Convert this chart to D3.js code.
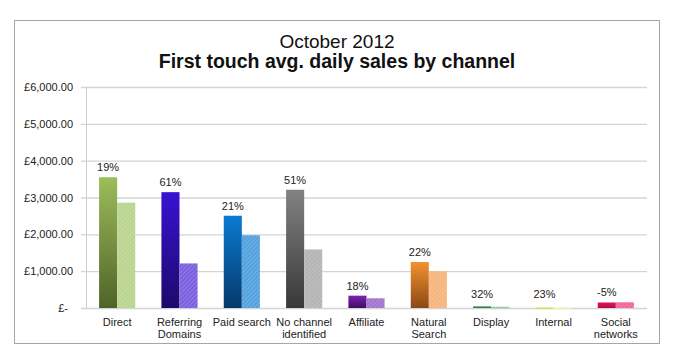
<!DOCTYPE html>
<html>
<head>
<meta charset="utf-8">
<script src="https://cdn.jsdelivr.net/npm/d3@7"></script>
<style>
  body { margin: 0; background: #fff; }
  text { font-family: "Liberation Sans", Arial, sans-serif; }
</style>
</head>
<body>
<div id="chart"></div>
<script>
// data
const channels = ['Direct', 'Referring Domains', 'Paid search', 'No channel identified', 'Affiliate',
  'Natural Search', 'Display', 'Internal', 'Social networks'];
const labelLines = [['Direct'], ['Referring', 'Domains'], ['Paid search'], ['No channel', 'identified'],
  ['Affiliate'], ['Natural', 'Search'], ['Display'], ['Internal'], ['Social', 'networks']];
const currentSales = [3550, 3145, 2505, 3210, 335, 1250, 45, 12, 150];
const previousSales = [2860, 1210, 1975, 1590, 265, 1000, 34, 10, 155];
const growth = ['19%', '61%', '21%', '51%', '18%', '22%', '32%', '23%', '-5%'];
const yTicks = [0, 1000, 2000, 3000, 4000, 5000, 6000];

// colours: [top of gradient, bottom of gradient, pale bar]
const palette = [
  ['#9dbd5a', '#4f6328', '#b9d48f'],
  ['#3a12d2', '#1b0a6c', '#7b5fe0'],
  ['#0b7bd3', '#06396a', '#52a2de'],
  ['#828282', '#383838', '#b4b4b4'],
  ['#7c22b2', '#3c0e62', '#a274cc'],
  ['#f49232', '#8a4814', '#f7b47e'],
  ['#3e9c5c', '#2a6e40', '#8acaa2'],
  ['#e4e46c', '#d4d456', '#eef0a4'],
  ['#e2125c', '#b00c48', '#f2649c']
];

const W = 684, H = 362;
const margin = { top: 87, right: 37, bottom: 54, left: 86 };
const width = W - margin.left - margin.right,
  height = H - margin.top - margin.bottom;

const svg = d3.select('#chart').append('svg')
  .attr('width', W)
  .attr('height', H);

const defs = svg.append('defs');
palette.forEach((c, i) => {
  const g = defs.append('linearGradient')
    .attr('id', 'grad' + i)
    .attr('x1', 0).attr('y1', 0).attr('x2', 0).attr('y2', 1);
  g.append('stop').attr('offset', '0%').attr('stop-color', c[0]);
  g.append('stop').attr('offset', '100%').attr('stop-color', c[1]);

  // faint diagonal hatching on the comparison bars
  const p = defs.append('pattern')
    .attr('id', 'hatch' + i)
    .attr('patternUnits', 'userSpaceOnUse')
    .attr('width', 3).attr('height', 3)
    .attr('patternTransform', 'rotate(45)');
  p.append('rect').attr('width', 3).attr('height', 3).attr('fill', c[2]);
  p.append('line').attr('x1', 0).attr('y1', 0).attr('x2', 0).attr('y2', 3)
    .attr('stroke', '#fff').attr('stroke-opacity', 0.35).attr('stroke-width', 1);
});

// outer frame
svg.append('rect')
  .attr('x', 14.5).attr('y', 20.5)
  .attr('width', 645).attr('height', 323)
  .attr('fill', 'none')
  .attr('stroke', '#a6a6a6');

// titles
svg.append('text')
  .attr('x', 337).attr('y', 47.5)
  .attr('text-anchor', 'middle')
  .style('font-size', '19px')
  .style('fill', '#111')
  .text('October 2012');
svg.append('text')
  .attr('x', 337).attr('y', 68)
  .attr('text-anchor', 'middle')
  .style('font-size', '19.5px')
  .style('font-weight', 'bold')
  .style('fill', '#111')
  .text('First touch avg. daily sales by channel');

const g = svg.append('g')
  .attr('transform', 'translate(' + margin.left + ',' + margin.top + ')');

const x = d3.scaleBand().domain(channels).range([0, width]).paddingInner(0.42).paddingOuter(0.21);
const x1 = d3.scaleBand().domain(['current', 'previous']).range([0, x.bandwidth()]);
const y = d3.scaleLinear().domain([0, 6000]).range([height, 0]);

// gridlines + y axis
const yAxis = g.append('g')
  .call(d3.axisLeft(y).tickValues(yTicks).tickSize(-width - 5)
    .tickFormat(d => d === 0 ? '£-' : '£' + d3.format(',.2f')(d)))
  .attr('transform', 'translate(-5,0)');
yAxis.select('.domain').remove();
yAxis.selectAll('.tick line')
  .attr('x1', 0)
  .attr('x2', width + 5)
  .attr('stroke', '#d4d4d4')
  .attr('stroke-width', 1.3);
yAxis.selectAll('.tick text')
  .attr('x', -8)
  .attr('dx', d => d === 0 ? -5 : 0)
  .style('font-size', '11px')
  .style('fill', '#222');

g.append('line')
  .attr('x1', 0.5).attr('x2', 0.5)
  .attr('y1', 0).attr('y2', height)
  .attr('stroke', '#cfcfcf');

// bars
const groups = g.selectAll('.channel')
  .data(channels)
  .enter().append('g')
  .attr('class', 'channel')
  .attr('transform', d => 'translate(' + x(d) + ',0)');

groups.append('rect')
  .attr('x', x1('current'))
  .attr('y', (d, i) => y(currentSales[i]))
  .attr('width', x1.bandwidth())
  .attr('height', (d, i) => Math.max(1.5, y(0) - y(currentSales[i])))
  .attr('fill', (d, i) => 'url(#grad' + i + ')');

groups.append('rect')
  .attr('x', x1('previous'))
  .attr('y', (d, i) => y(previousSales[i]))
  .attr('width', x1.bandwidth())
  .attr('height', (d, i) => Math.max(1.5, y(0) - y(previousSales[i])))
  .attr('fill', (d, i) => 'url(#hatch' + i + ')');

// growth labels over the current bar
groups.append('text')
  .attr('x', x1('current') + x1.bandwidth() / 2)
  .attr('y', (d, i) => Math.min(y(currentSales[i]), y(0) - 4) - 6)
  .attr('text-anchor', 'middle')
  .style('font-size', '11px')
  .style('fill', '#222')
  .text((d, i) => growth[i]);

// category labels
groups.append('text')
  .attr('x', x.bandwidth() / 2)
  .attr('y', height + 18)
  .attr('text-anchor', 'middle')
  .style('font-size', '11px')
  .style('fill', '#222')
  .selectAll('tspan')
  .data((d, i) => labelLines[i])
  .enter().append('tspan')
  .attr('x', x.bandwidth() / 2)
  .attr('dy', (d, j) => j === 0 ? 0 : 12)
  .text(d => d);
</script>
</body>
</html>
